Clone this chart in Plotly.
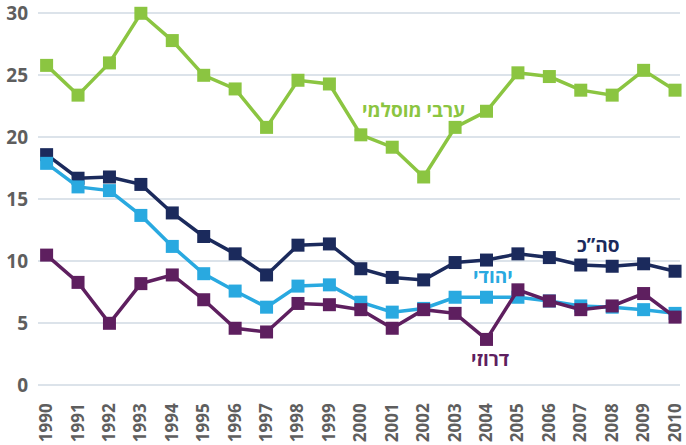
import plotly.graph_objects as go

years = list(range(1990, 2011))

arab_muslim = [25.8, 23.4, 26.0, 30.0, 27.8, 25.0, 23.9, 20.8, 24.6, 24.3,
               20.2, 19.2, 16.8, 20.8, 22.1, 25.2, 24.9, 23.8, 23.4, 25.4, 23.8]
total = [18.6, 16.7, 16.8, 16.2, 13.9, 12.0, 10.6, 8.9, 11.3, 11.4,
         9.4, 8.7, 8.5, 9.9, 10.1, 10.6, 10.3, 9.7, 9.6, 9.8, 9.2]
jewish = [17.9, 16.0, 15.7, 13.7, 11.2, 9.0, 7.6, 6.3, 8.0, 8.1,
          6.7, 5.9, 6.2, 7.1, 7.1, 7.1, 6.8, 6.4, 6.3, 6.1, 5.8]
druze = [10.5, 8.3, 5.0, 8.2, 8.9, 6.9, 4.6, 4.3, 6.6, 6.5,
         6.1, 4.6, 6.1, 5.8, 3.7, 7.7, 6.8, 6.1, 6.4, 7.4, 5.5]

series_names = ["ערבי מוסלמי", "סה”כ", "יהודי", "דרוזי"]
series_values = [arab_muslim, total, jewish, druze]
series_colors = ["#8BC541", "#1B2A5C", "#29A9E0", "#5E1F5F"]

y_ticks = [0, 5, 10, 15, 20, 25, 30]

fig = go.Figure()
for name, vals, color in zip(series_names, series_values, series_colors):
    fig.add_trace(go.Scatter(
        x=years, y=vals, name=name, mode="lines+markers",
        line=dict(color=color, width=3.5),
        marker=dict(symbol="square", size=13, color=color),
        cliponaxis=False, showlegend=False,
    ))

# inline series labels
label_pos = [(2001.68, 22.2), (2007.55, 11.3), (2004.2, 8.8), (2004.1, 2.1)]
for name, color, (lx, ly) in zip(series_names, series_colors, label_pos):
    fig.add_annotation(
        x=lx, y=ly, text=name, showarrow=False,
        font=dict(family="Open Sans, DejaVu Sans", size=19, color=color, weight=700),
    )

fig.update_layout(
    width=686, height=445,
    margin=dict(l=38, r=0, t=8, b=56),
    paper_bgcolor="white", plot_bgcolor="white",
    font=dict(family="Open Sans, DejaVu Sans", color="#5A5A5A"),
)
fig.update_xaxes(
    range=[1989.726, 2010.158],
    tickmode="array", tickvals=years, ticktext=[str(y) for y in years],
    tickangle=-90, tickfont=dict(size=17, color="#5E5E5E", weight=700),
    showgrid=False, zeroline=False, showline=False,
    ticklabelstandoff=10, ticklabeloverflow="allow",
)
fig.update_yaxes(
    range=[-0.298, 30.427], tickvals=y_ticks,
    tickfont=dict(size=19, color="#5E5E5E", weight=700),
    showgrid=True, gridcolor="#DCE3EA", gridwidth=1.5,
    zeroline=False, showline=False,
    ticklabelstandoff=9, ticklabeloverflow="allow",
)

fig.write_html("out.html")
